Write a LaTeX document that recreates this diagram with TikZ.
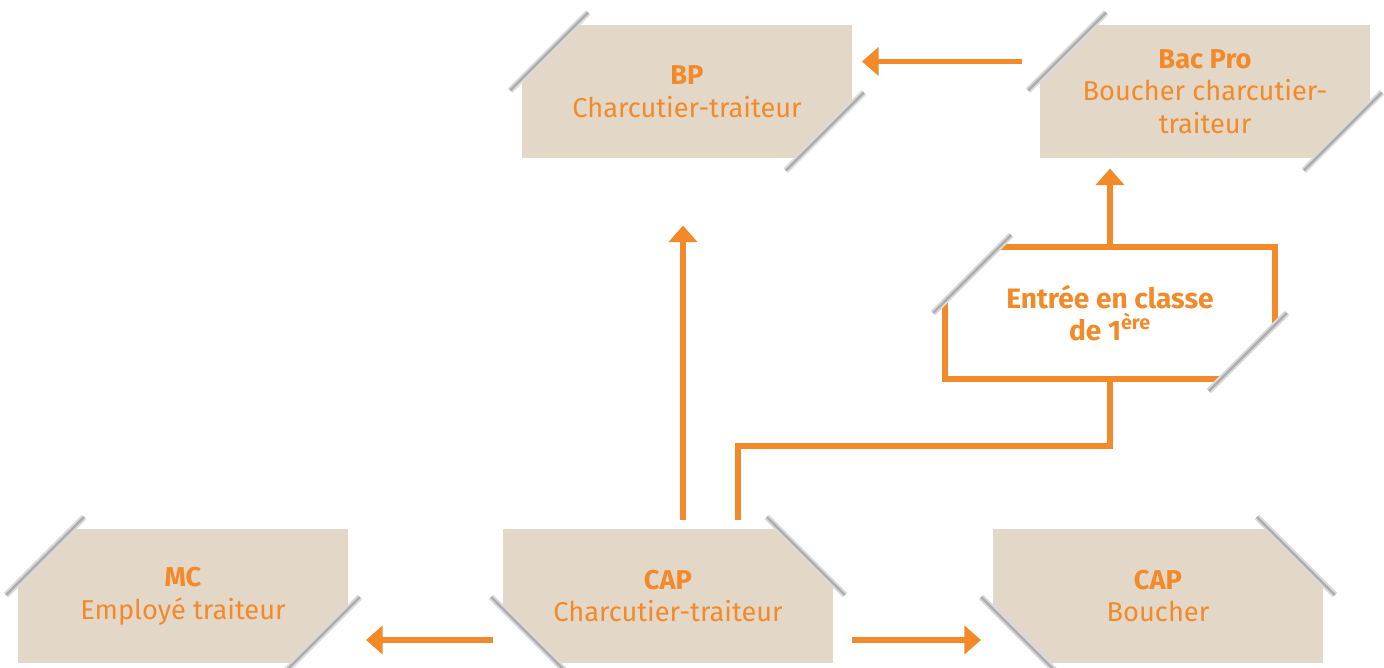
\documentclass[tikz,border=0pt]{standalone}
\usepackage{fontspec}
\setmainfont{Fira Sans}
\usetikzlibrary{arrows.meta,calc}

\definecolor{orangeline}{HTML}{F28A2A}
\definecolor{sand}{HTML}{E3D8C7}

% white cut across one corner, with its grey shade line
\newcommand{\cutcorner}[3]{%
  \fill[white] ($(#1)+({-12*(#2)},{66*(#3)})$) -- ($(#1)+({66*(#2)},{-12*(#3)})$) -- ($(#1)+({-12*(#2)},{-12*(#3)})$) -- cycle;
  \draw[cutshade] ($(#1)+({-12*(#2)},{66*(#3)})$) -- ($(#1)+({66*(#2)},{-12*(#3)})$);
  \draw[cutline] ($(#1)+({-12*(#2)},{66*(#3)})$) -- ($(#1)+({66*(#2)},{-12*(#3)})$);
}

\begin{document}
\begin{tikzpicture}[
    x=0.02cm, y=-0.02cm,
    box/.style={rectangle, fill=sand, minimum width=6.6cm, minimum height=2.68cm, inner sep=0pt, outer sep=0pt, align=center, text=orangeline, font=\fontsize{15.5}{18.5}\selectfont},
    entrybox/.style={rectangle, draw=orangeline, line width=3pt, fill=white, minimum width=6.6cm, minimum height=2.64cm, inner sep=0pt, outer sep=0pt, align=center, text=orangeline, font=\fontsize{16}{18.5}\selectfont\bfseries},
    arrow/.style={-{Triangle[length=9.5pt,width=16pt]}, orangeline, line width=3pt},
    link/.style={orangeline, line width=3pt},
    cutshade/.style={line width=3.6pt, black!14},
    cutline/.style={line width=1.4pt, black!32}
]
\useasboundingbox (0,0) rectangle (1384,668);

\node[box] (bp) at (687,91.5) {\textbf{BP}\\Charcutier-traiteur};
\node[box] (bacpro) at (1205,91.5) {\textbf{Bac Pro}\\Boucher charcutier-\\traiteur};
\node[entrybox] (entree) at (1110,313) {Entrée en classe\\de 1\textsuperscript{ère}};
\node[box] (mc) at (183,596) {\textbf{MC}\\Employé traiteur};
\node[box] (capc) at (668,596) {\textbf{CAP}\\Charcutier-traiteur};
\node[box] (capb) at (1158,596) {\textbf{CAP}\\Boucher};

\cutcorner{bp.north west}{1}{1}
\cutcorner{bp.south east}{-1}{-1}
\cutcorner{bacpro.north west}{1}{1}
\cutcorner{bacpro.south east}{-1}{-1}
\cutcorner{entree.north west}{1}{1}
\cutcorner{entree.south east}{-1}{-1}
\cutcorner{mc.north west}{1}{1}
\cutcorner{mc.south east}{-1}{-1}
\cutcorner{capc.north east}{-1}{1}
\cutcorner{capc.south west}{1}{-1}
\cutcorner{capb.north east}{-1}{1}
\cutcorner{capb.south west}{1}{-1}

\draw[arrow] ($(bacpro.west)+(-18,-30)$) -- ($(bp.east)+(10,-30)$);
\draw[arrow] (entree.north) -- ($(entree.north |- bacpro.south)+(0,10)$);
\draw[arrow] ($(capc.north)+(15,-9)$) -- ($(bp.south)+(-4,67)$);
\draw[link] ($(capc.north)+(70,-9)$) |- ($(entree.south)+(0,67)$) -- (entree.south);
\draw[arrow] ($(capc.west)+(-10,44)$) -- ($(mc.east)+(18,44)$);
\draw[arrow] ($(capc.east)+(19,44)$) -- ($(capb.west)+(-12,44)$);

\end{tikzpicture}
\end{document}
